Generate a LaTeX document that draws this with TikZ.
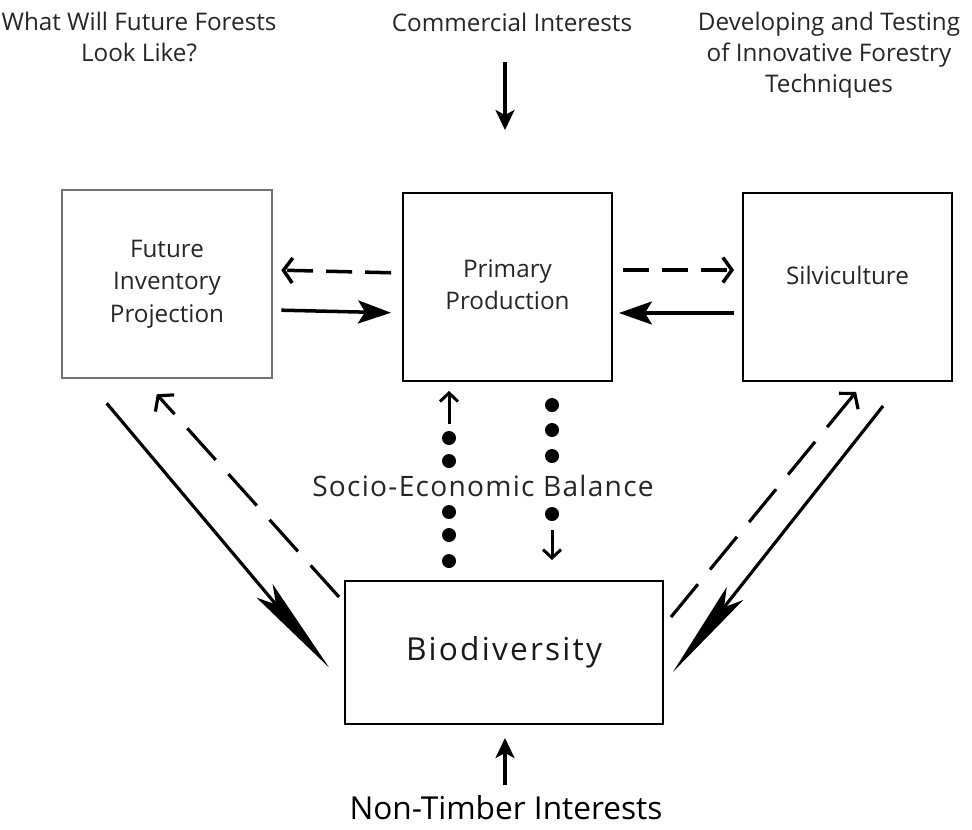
\documentclass[tikz,border=0pt]{standalone}
\usepackage{fontspec}
\setmainfont{Open Sans}
\usepackage{tikz}
\usetikzlibrary{arrows.meta}

\begin{document}
\begin{tikzpicture}[x=0.02cm, y=-0.02cm,
	textbox/.style={draw, line width=1.1pt, minimum width=4.18cm, minimum height=3.76cm, align=center, text=black!85, font=\fontsize{13.8}{18.5}\selectfont},
	lbl/.style={align=center, text=black!85, font=\fontsize{13.8}{17.5}\selectfont},
	circ/.style={circle, fill, minimum size=0.28cm, inner sep=0},
	harrow/.style={line width=2pt, -{Stealth[length=0.66cm, width=0.46cm, inset=0.14cm]}},
	hdash/.style={line width=2pt, dash pattern=on 0.52cm off 0.26cm, -{Straight Barb[length=0.18cm, width=0.5cm]}},
	darrow/.style={line width=1.8pt, -{Stealth[length=2cm, width=0.42cm, inset=0.35cm]}},
	ddash/.style={line width=1.8pt, dash pattern=on 0.85cm off 0.38cm, -{Straight Barb[length=0.2cm, width=0.5cm]}},
	varrow/.style={line width=1.8pt, -{Stealth[length=0.4cm, width=0.38cm, inset=0.1cm]}},
	tiny/.style={line width=1.7pt, -{Straight Barb[length=0.17cm, width=0.36cm]}}
]
\useasboundingbox (0,0) rectangle (972,829);

\node[textbox, draw=black!55, line width=1.5pt, minimum width=4.2cm] (fip) at (167,284) {Future\\Inventory\\Projection};
\node[textbox] (pp) at (507.5,287) {\raisebox{0.08cm}{\begin{tabular}{@{}c@{}}Primary\\Production\end{tabular}}};
\node[textbox] (silv) at (847.5,287) {\raisebox{0.45cm}{Silviculture}};
\node[textbox, minimum width=6.36cm, minimum height=2.86cm, text=black!90, font=\fontsize{18}{20}\selectfont\addfontfeatures{LetterSpace=7}] (bio) at (504,652.5) {Biodiversity};

\node[lbl] (future) at (139,37) {What Will Future Forests\\Look Like?};
\node[lbl] (comm) at (512,22) {Commercial Interests};
\node[lbl] (devel) at (829,55) {Developing and Testing\\of Innovative Forestry\\Techniques};
\node[lbl, text=black, font=\fontsize{18}{20}\selectfont] (ntimber) at (506,808) {Non-Timber Interests};
\node[lbl, font=\fontsize{16}{18}\selectfont\addfontfeatures{LetterSpace=4.5}] (socio) at (483,486) {Socio-Economic Balance};

\coordinate (commTop) at (505,62);
\coordinate (commEnd) at (505,130);
\coordinate (ntTop) at (505,738);
\coordinate (ntBot) at (505,785);
\draw[varrow] (commTop) -- (commEnd);
\draw[varrow] (ntBot) -- (ntTop);

\draw[hdash] ([yshift=0.28cm]pp.west) -- ([yshift=0.28cm]fip.east) [shorten <=0.22cm, shorten >=0.16cm];
\draw[harrow] ([yshift=-0.52cm]fip.east) -- ([yshift=-0.52cm]pp.west) [shorten <=0.16cm, shorten >=0.22cm];
\draw[hdash] ([yshift=0.34cm]pp.east) -- ([yshift=0.34cm]silv.west) [shorten <=0.2cm, shorten >=0.16cm];
\draw[harrow] ([yshift=-0.52cm]silv.west) -- ([yshift=-0.52cm]pp.east) [shorten <=0.16cm, shorten >=0.12cm];

\draw[darrow] ([shift={(46,24)}]fip.south west) -- ([shift={(-15,15)}]bio.west);
\draw[ddash] ([shift={(-5,17)}]bio.north west) -- ([shift={(96,15)}]fip.south west);
\draw[ddash] ([shift={(7,37)}]bio.north east) -- ([shift={(114,10)}]silv.south west);
\draw[darrow] ([shift={(141,24)}]silv.south west) -- ([shift={(9,19.5)}]bio.east);

\foreach \y [count=\i] in {438,461,512,535,561}
	\node[circ] (dl\i) at (449,\y) {};
\foreach \y [count=\i] in {405,430,456,514}
	\node[circ] (dr\i) at (552,\y) {};
\draw[tiny] (dl1.north) -- (pp.south -| dl1) [shorten <=0.14cm, shorten >=0.18cm];
\draw[tiny] (dr4.south) -- (bio.north -| dr4) [shorten <=0.18cm, shorten >=0.4cm];
\end{tikzpicture}
\end{document}
